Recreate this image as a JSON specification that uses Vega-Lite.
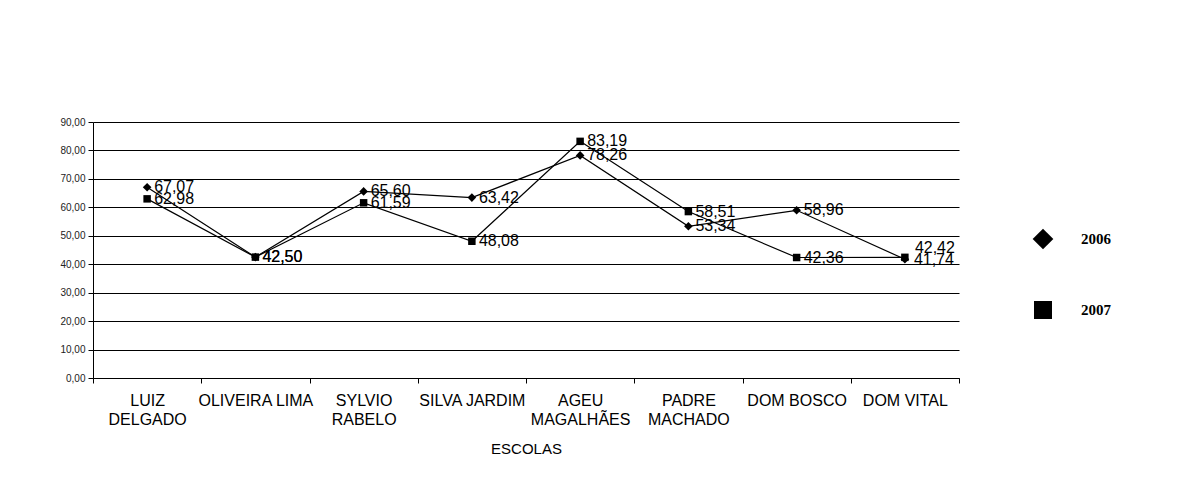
{
  "$schema": "https://vega.github.io/schema/vega-lite/v6.json",
  "width": 866,
  "height": 256,
  "autosize": {"type": "none"},
  "padding": {"left": 93, "top": 122, "right": 230, "bottom": 106},
  "background": "white",
  "config": {
    "view": {"stroke": null},
    "font": "Liberation Sans",
    "locale": {"number": {"decimal": ",", "thousands": ".", "grouping": [3], "currency": ["R$", ""]}}
  },
  "data": {
    "values": [
      {"escola": "LUIZ DELGADO", "ano": "2006", "valor": 67.07},
      {"escola": "OLIVEIRA LIMA", "ano": "2006", "valor": 42.50},
      {"escola": "SYLVIO RABELO", "ano": "2006", "valor": 65.60},
      {"escola": "SILVA JARDIM", "ano": "2006", "valor": 63.42},
      {"escola": "AGEU MAGALHÃES", "ano": "2006", "valor": 78.26},
      {"escola": "PADRE MACHADO", "ano": "2006", "valor": 53.34},
      {"escola": "DOM BOSCO", "ano": "2006", "valor": 58.96},
      {"escola": "DOM VITAL", "ano": "2006", "valor": 41.74},
      {"escola": "LUIZ DELGADO", "ano": "2007", "valor": 62.98},
      {"escola": "OLIVEIRA LIMA", "ano": "2007", "valor": 42.50},
      {"escola": "SYLVIO RABELO", "ano": "2007", "valor": 61.59},
      {"escola": "SILVA JARDIM", "ano": "2007", "valor": 48.08},
      {"escola": "AGEU MAGALHÃES", "ano": "2007", "valor": 83.19},
      {"escola": "PADRE MACHADO", "ano": "2007", "valor": 58.51},
      {"escola": "DOM BOSCO", "ano": "2007", "valor": 42.36},
      {"escola": "DOM VITAL", "ano": "2007", "valor": 42.42}
    ]
  },
  "encoding": {
    "x": {
      "field": "escola",
      "type": "nominal",
      "sort": null,
      "scale": {"paddingInner": 0, "paddingOuter": 0},
      "axis": {
        "title": "ESCOLAS",
        "titleFont": "Liberation Sans",
        "titleFontSize": 15,
        "titleFontWeight": "normal",
        "titleColor": "#000",
        "titlePadding": 14,
        "labelAngle": 0,
        "labelFontSize": 16,
        "labelColor": "#000",
        "labelPadding": 9,
        "labelLineHeight": 19,
        "labelBaseline": "top",
        "labelExpr": "indexof(['LUIZ DELGADO','SYLVIO RABELO','AGEU MAGALHÃES','PADRE MACHADO'], datum.value) >= 0 ? split(datum.value, ' ') : datum.value",
        "tickBand": "extent",
        "tickColor": "#000",
        "tickSize": 5,
        "domainColor": "#000",
        "grid": false
      }
    },
    "y": {
      "field": "valor",
      "type": "quantitative",
      "scale": {"domain": [0, 90], "nice": false},
      "axis": {
        "title": null,
        "values": [0, 10, 20, 30, 40, 50, 60, 70, 80, 90],
        "format": ".2f",
        "labelFontSize": 10,
        "labelColor": "#222",
        "labelPadding": 3,
        "tickColor": "#000",
        "tickSize": 5,
        "domainColor": "#000",
        "grid": true,
        "gridColor": "#000",
        "gridOpacity": 1,
        "gridWidth": 1
      }
    }
  },
  "layer": [
    {
      "mark": {"type": "line", "color": "#000", "strokeWidth": 1.2},
      "encoding": {"detail": {"field": "ano"}}
    },
    {
      "mark": {"type": "point", "filled": true, "color": "#000", "opacity": 1, "size": 56},
      "encoding": {
        "shape": {
          "field": "ano",
          "type": "nominal",
          "scale": {"domain": ["2006", "2007"], "range": ["M-1.15,0L0,-1.15L1.15,0L0,1.15Z", "square"]},
          "legend": {
            "title": null,
            "orient": "none",
            "legendX": 941,
            "legendY": 108,
            "padding": 0,
            "symbolSize": 324,
            "symbolFillColor": "#000",
            "symbolStrokeWidth": 0,
            "symbolOpacity": 1,
            "labelFont": "Liberation Serif",
            "labelFontWeight": "bold",
            "labelFontSize": 15,
            "labelColor": "#000",
            "labelOffset": 29,
            "rowPadding": 51
          }
        }
      }
    },
    {
      "transform": [{"filter": "datum.escola !== 'DOM VITAL'"}],
      "mark": {"type": "text", "align": "left", "baseline": "middle", "dx": 7, "fontSize": 16, "color": "#000"},
      "encoding": {"text": {"field": "valor", "type": "quantitative", "format": ".2f"}}
    },
    {
      "transform": [{"filter": "datum.escola === 'DOM VITAL' && datum.ano === '2007'"}],
      "mark": {"type": "text", "align": "left", "baseline": "middle", "dx": 10, "dy": -9, "fontSize": 16, "color": "#000"},
      "encoding": {"text": {"field": "valor", "type": "quantitative", "format": ".2f"}}
    },
    {
      "transform": [{"filter": "datum.escola === 'DOM VITAL' && datum.ano === '2006'"}],
      "mark": {"type": "text", "align": "left", "baseline": "middle", "dx": 9, "dy": 1, "fontSize": 16, "color": "#000"},
      "encoding": {"text": {"field": "valor", "type": "quantitative", "format": ".2f"}}
    }
  ]
}
